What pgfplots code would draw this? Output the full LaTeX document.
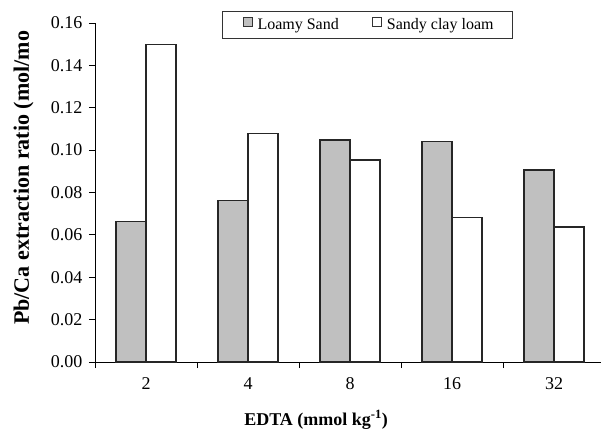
\documentclass[border=0pt]{standalone}
\usepackage{fontspec}
\setmainfont{Liberation Serif}
\usepackage{pgfplots}
\pgfplotsset{compat=1.18}
\definecolor{barGray}{RGB}{192,192,192}
\pgfplotsset{/pgfplots/ybar legend/.style={/pgfplots/legend image code/.code={\path (0pt,0pt); \draw[##1,line width=1pt,draw=black!80] (3pt,-1pt) rectangle (12pt,8pt);}}}
\begin{document}
\begin{tikzpicture}
\begin{axis}[
  scale only axis,
  width=506pt, height=339pt,
  xmin=-0.5, xmax=4.46,
  ymin=0, ymax=0.16,
  axis lines=left,
  axis line style={-, line width=0.9pt},
  ybar=0pt,
  bar width=0.294,
  xtick={0,1,2,3,4},
  xticklabels={2,4,8,16,32},
  major x tick style={draw=none},
  minor xtick={-0.5,0.5,1.5,2.5,3.5},
  minor x tick style={line width=0.9pt, black},
  minor tick length=6pt,
  ytick={0,0.02,...,0.161},
  y tick style={line width=0.9pt, black},
  major tick length=6pt,
  tick align=outside,
  yticklabel style={xshift=-3pt, /pgf/number format/.cd, fixed, fixed zerofill, precision=2},
  xticklabel style={yshift=-6pt},
  /pgf/number format/assume math mode=true,
  tick label style={font=\fontsize{18}{21}\selectfont},
  every axis x label/.style={at={(rel axis cs:0.437,0)}, anchor=base, yshift=-63pt},
  every axis y label/.style={at={(rel axis cs:0,0.543)}, rotate=90, anchor=center, yshift=71.5pt},
  xlabel={\fontsize{18}{21}\selectfont\bfseries EDTA (mmol kg\textsuperscript{-1})},
  ylabel={\fontsize{22}{25}\selectfont\bfseries Pb/Ca extraction ratio (mol/mo},
  legend style={at={(rel axis cs:0.251,1.035)}, anchor=north west, legend columns=-1,
    draw=black!80, line width=0.8pt, fill=white, font=\fontsize{16}{19}\selectfont,
    inner xsep=17pt, inner ysep=5pt,
    /tikz/every odd column/.append style={column sep=3pt},
    /tikz/every even column/.append style={column sep=28pt}},
  clip=false,
]
\addplot[fill=barGray, draw=black!85, line width=1.2pt] coordinates {(0,0.0662) (1,0.0763) (2,0.1048) (3,0.1040) (4,0.0906)};
\addplot[fill=white, draw=black!85, line width=1.2pt] coordinates {(0,0.150) (1,0.108) (2,0.0953) (3,0.0681) (4,0.0637)};
\legend{Loamy Sand, Sandy clay loam}
\coordinate (sw) at (rel axis cs:0,0);
\end{axis}
\pgfresetboundingbox
\path ([shift={(-95pt,-67pt)}]sw) rectangle ([shift={(506pt,362pt)}]sw);
\end{tikzpicture}
\end{document}
